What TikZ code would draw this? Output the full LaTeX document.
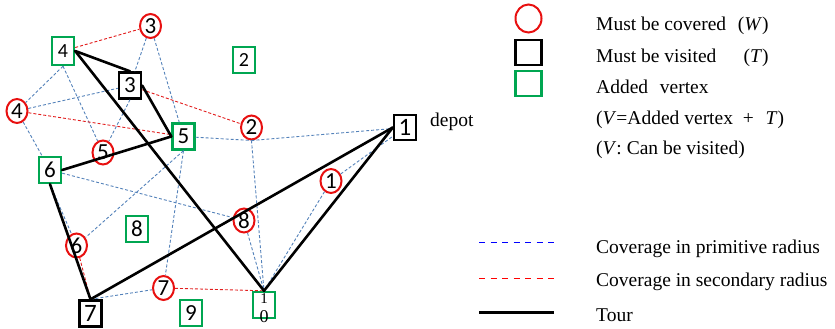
\documentclass[tikz,border=0pt]{standalone}
\usepackage{fontspec}
\setmainfont{Liberation Serif}
\newfontfamily\numfont{Carlito}
\usetikzlibrary{shapes.geometric}
\definecolor{vgreen}{RGB}{0,166,81}
\definecolor{cred}{RGB}{232,16,16}
\definecolor{pblue}{RGB}{84,130,186}
\definecolor{sred}{RGB}{226,30,30}
\begin{document}
\begin{tikzpicture}[x=1pt,y=-1pt,
  sq/.style={draw, line width=2.4pt, fill=white, minimum width=22pt, minimum height=26pt, inner sep=0pt, font=\numfont\fontsize{23}{23}\selectfont},
  gsq/.style={sq, draw=vgreen},
  bsq/.style={sq, draw=black},
  cov/.style={ellipse, draw=cred, line width=2pt, minimum width=21pt, minimum height=24pt, inner sep=0pt, font=\numfont\fontsize{23}{23}\selectfont},
  pri/.style={draw=pblue, dash pattern=on 3pt off 2pt, line width=0.9pt},
  sec/.style={draw=sred, dash pattern=on 3pt off 2pt, line width=0.9pt},
  tour/.style={draw=black, line width=2.6pt, line cap=round},
  lab/.style={anchor=base west, inner sep=0pt, font=\fontsize{19.5}{20}\selectfont}
]
\useasboundingbox (0,0) rectangle (835,329);
% vertices
\node[gsq, minimum height=28pt, font=\numfont\fontsize{20}{20}\selectfont] (s4) at (63,51) {4};
\node[cov] (c3) at (150.5,26) {3};
\node[gsq, font=\numfont\fontsize{20}{20}\selectfont] (s2) at (244,60) {2};
\node[bsq] (s3) at (130,85.5) {3};
\node[cov] (c4) at (17,111) {4};
\node[gsq] (s5) at (183.5,136.5) {5};
\node[cov] (c2) at (251.5,127.5) {2};
\node[bsq, minimum height=25pt, font=\numfont\fontsize{25}{25}\selectfont] (s1) at (405,127.5) {1};
\node[anchor=base west, inner sep=0pt, font=\fontsize{19.5}{20}\selectfont] (dep) at (430,126.7) {depot};
\node[cov] (c5) at (103,152.5) {5};
\node[gsq] (s6) at (50,170) {6};
\node[cov] (c1) at (331,181) {1};
\node[cov] (c8) at (244,220.5) {8};
\node[gsq] (s8) at (137,229) {8};
\node[cov] (c6) at (76.5,245.5) {6};
\node[cov] (c7) at (163.5,288) {7};
\node[bsq, font=\numfont\fontsize{25}{25}\selectfont] (s7) at (90.5,313.5) {7};
\node[gsq] (s9) at (191,313) {9};
\node[gsq] (s10) at (264,305) {};
\node[inner sep=0pt, font=\fontsize{15}{15}\selectfont] (s10a) at (264,299) {1};
\node[inner sep=0pt, font=\fontsize{18}{18}\selectfont] (s10b) at (264,317) {0};
% primitive coverage
\draw[pri] (c3) -- (s3);
\draw[pri] (s3.south) -- (c5);
\draw[pri] (c3) -- (s5);
\draw[pri] (s4.south) -- (c4);
\draw[pri] (s4.south) -- (c5);
\draw[pri] (c4) -- (s3);
\draw[pri] (c4) -- (s6);
\draw[pri] (s5) -- (c2.south);
\draw[pri] (c2.south) -- (s1);
\draw[pri] (c2.south) -- (s10.north);
\draw[pri] (s5.south) -- (c6);
\draw[pri] (s5.south) -- (c7);
\draw[pri] (s6) -- (c8);
\draw[pri] (s6.south) -- (c6);
\draw[pri] (c8) -- (s10.north);
\draw[pri] (c1) -- (s10.north);
\draw[pri] (c1) -- (s1);
\draw[pri] (s7.north) -- (c7);
% secondary coverage
\draw[sec] (s4) -- (c3);
\draw[sec] (s3) -- (c2);
\draw[sec] (c4) -- (s5);
\draw[sec] (c6) -- (s7.north);
\draw[sec] (c7) -- (s10.north);
% tour
\draw[tour] (s1.west) -- (s10.north);
\draw[tour] (s10.north) -- (s4.east);
\draw[tour] (s4.east) -- (s3.north);
\draw[tour] (s3.east) -- (s5.west);
\draw[tour] (s5.west) -- (s6.east);
\draw[tour] (s6.south) -- (s7.north);
\draw[tour] (s7.north) -- (s1.west);
% legend
\node[cov, minimum width=26pt, minimum height=28pt] (lc) at (528.5,18.5) {};
\node[bsq, minimum width=26pt, minimum height=25pt] (lb) at (528.5,52.5) {};
\node[gsq, minimum width=26pt, minimum height=25pt] (lg) at (528.5,83.5) {};
\node[lab] (t1) at (596,31) {Must be covered\hspace{0.6em}(\textit{W})};
\node[lab] (t2) at (596,63) {Must be visited\hspace{1.4em}(\textit{T})};
\node[lab] (t3) at (596,93) {Added\hspace{0.6em}vertex};
\node[lab] (t4) at (596,124) {(\textit{V}=Added vertex\hspace{0.5em}+\hspace{0.6em}\textit{T})};
\node[lab] (t5) at (596,154) {(\textit{V}: Can be visited)};
\coordinate (pb1) at (479,242.3);
\coordinate (pb2) at (554,242.3);
\draw[draw=blue, dash pattern=on 6pt off 5.5pt, line width=1.6pt] (pb1) -- (pb2);
\coordinate (pr1) at (479,278.3);
\coordinate (pr2) at (554,278.3);
\draw[draw=red, dash pattern=on 6pt off 5.5pt, line width=1.6pt] (pr1) -- (pr2);
\coordinate (pt1) at (479,312.3);
\coordinate (pt2) at (554,312.3);
\draw[draw=black, line width=3.5pt] (pt1) -- (pt2);
\node[lab] (t6) at (596,253) {Coverage in primitive radius};
\node[lab] (t7) at (596,286.7) {Coverage in secondary radius};
\node[lab] (t8) at (596,321.7) {Tour};
\end{tikzpicture}
\end{document}
